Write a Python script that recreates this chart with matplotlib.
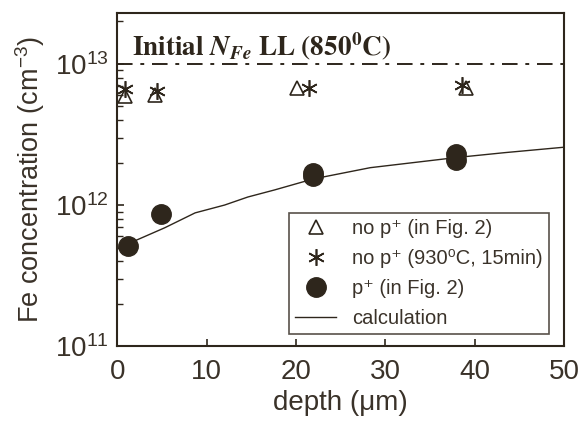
import matplotlib.pyplot as plt
from matplotlib.ticker import LogLocator, NullFormatter, FixedLocator

# data
tri_x = [0.8, 4.2, 20.1, 39.0]
tri_y = [5.9e12, 6.0e12, 6.8e12, 6.8e12]
ast_x = [0.8, 4.4, 21.4, 38.6]
ast_y = [6.6e12, 6.4e12, 6.8e12, 7.1e12]
dot_x = [1.2, 4.9, 21.9, 21.9, 37.9, 37.9]
dot_y = [5.1e11, 8.6e11, 1.68e12, 1.6e12, 2.3e12, 2.08e12]
calc_x = [0, 0.8, 2.3, 5.3, 8.7, 12, 14.6, 17.6, 21.9, 28.3, 37.9, 43.3, 50]
calc_y = [4.9e11, 5.2e11, 5.7e11, 6.9e11, 8.8e11, 1.0e12, 1.14e12, 1.28e12,
          1.53e12, 1.84e12, 2.17e12, 2.35e12, 2.57e12]
initial_level = 1e13

ink = '#2e261c'
txt = '#3a3229'
plt.rcParams['font.family'] = ['Liberation Sans', 'DejaVu Sans']
plt.rcParams['mathtext.fontset'] = 'custom'
plt.rcParams['mathtext.rm'] = 'Liberation Sans'

fig = plt.figure(figsize=(5.81, 4.30), dpi=100)
ax = fig.add_axes([0.202, 0.195, 0.769, 0.775])

ax.plot(calc_x, calc_y, '-', color=ink, lw=1.0, label='calculation', zorder=2)
ax.plot(tri_x, tri_y, '^', mfc='none', mec=ink, ms=10, mew=1.2, ls='none',
        label='no p\u207a (in Fig. 2)', zorder=3)
ax.plot(ast_x, ast_y, ls='none', marker=(6, 2, 0), mec=ink, ms=12, mew=1.2,
        label='no p\u207a (930\u2070C, 15min)', zorder=3)
ax.plot(dot_x, dot_y, 'o', color=ink, ms=14, ls='none',
        label='p\u207a (in Fig. 2)', zorder=3)
ax.axhline(initial_level, color=ink, lw=1.4, ls=(0, (8, 4, 2, 4)))

ax.text(1.6, 1.34e13,
        r'$\mathbf{Initial}\ \mathbfit{N}_{\mathbfit{Fe}}\ \mathbf{LL\ (850^{0}C)}$',
        math_fontfamily='stix', fontsize=19.5, color=ink, va='center')

ax.set_yscale('log')
ax.set_xlim(0, 50)
ax.set_ylim(1e11, 2.3e13)
ax.xaxis.set_major_locator(FixedLocator([0, 10, 20, 30, 40, 50]))
ax.yaxis.set_major_locator(FixedLocator([1e11, 1e12, 1e13]))
ax.yaxis.set_minor_locator(LogLocator(base=10, subs=range(2, 10)))
ax.yaxis.set_minor_formatter(NullFormatter())
ax.tick_params(direction='in', labelsize=20, colors=ink, labelcolor=txt, length=5, width=1.2)
ax.tick_params(which='minor', direction='in', length=4, width=1.0, colors=ink)
ax.tick_params(axis='x', pad=9)
ax.tick_params(axis='y', pad=6)
for s in ax.spines.values():
    s.set_color(ink)
    s.set_linewidth(1.5)

ax.set_xlabel('depth (\u03bcm)', fontsize=20, color=txt, labelpad=4)
ax.set_ylabel('Fe concentration (cm$^{-3}$)', fontsize=19.5, color=txt, labelpad=6)

h, l = ax.get_legend_handles_labels()
order = [1, 2, 3, 0]
leg = ax.legend([h[i] for i in order], [l[i] for i in order], loc='lower right',
                bbox_to_anchor=(0.965, 0.035), fontsize=14.5, fancybox=False,
                edgecolor=ink, handlelength=2.0, handletextpad=0.8,
                labelspacing=0.55, borderpad=0.3, borderaxespad=0.0)
leg.get_frame().set_linewidth(1.2)
for t in leg.get_texts():
    t.set_color(txt)

fig.savefig('out.png', dpi=100)
